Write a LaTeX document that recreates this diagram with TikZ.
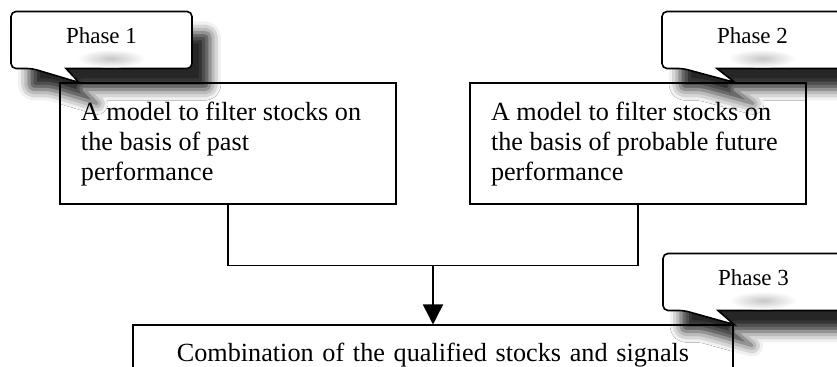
\documentclass[tikz,border=0pt]{standalone}
\usepackage{fontspec}
\setmainfont{Liberation Serif}
\usetikzlibrary{positioning,calc,arrows.meta,shadows.blur}

\tikzset{
  stagebox/.style={draw,line width=1pt,fill=white,align=flush left,text width=147pt,
    inner xsep=10.5pt,inner ysep=9pt,minimum height=60.5pt,
    font=\fontsize{13.1pt}{14.9pt}\selectfont},
  resultbox/.style={draw,line width=1pt,fill=white,align=center,text width=279pt,
    inner xsep=10.5pt,inner ysep=9pt,font=\fontsize{13.1pt}{14.9pt}\selectfont},
  phasetag/.style={inner sep=0pt,font=\fontsize{11.5pt}{13pt}\selectfont},
  bubble/.style={draw,line width=0.8pt,fill=white,
    blur shadow={shadow xshift=9pt,shadow yshift=-10.5pt,shadow blur radius=5.5pt,shadow opacity=85}},
  link/.style={line width=0.75pt}
}

\begin{document}
\begin{tikzpicture}
\useasboundingbox (0,0) rectangle (418.5pt,-183.5pt);
\clip (0,0) rectangle (418.5pt,-183.5pt);

% the three steps
\node[stagebox] (past) at (114pt,-72pt) {A model to filter stocks on\\the basis of past\\performance};
\node[stagebox,right=36pt of past] (future) {A model to filter stocks on\\the basis of probable future\\performance};
\coordinate (join) at ($(past.south)!.5!(future.south)+(0,-30pt)$);
\node[resultbox,below=29.5pt of join] (combine) {Combination of the qualified stocks and signals};

\draw[link] (past.south) |- (join) -| (future.south);
\draw[link,-{Triangle[width=10pt,length=10pt]}] (join) -- (combine.north);

% phase callouts
\coordinate (ph1) at ($(past.north west)+(-24pt,7pt)$);
\coordinate (ph2) at ($(future.north east)+(-72.5pt,7pt)$);
\coordinate (ph3) at ($(combine.north east)+(-35.5pt,7pt)$);
\coordinate (tip1) at ($(past.north west)+(10pt,0)$);
\coordinate (tip2) at ($(future.north east)+(-36pt,0)$);
\coordinate (tip3) at (combine.north east);

\foreach \p/\t/\n in {ph1/tip1/1,ph2/tip2/2,ph3/tip3/3}{
  \draw[bubble] ($(\p)+(27.5pt,0)$) [rounded corners=2.5pt] -- ++(63pt,0) -- ++(0,28.5pt)
    -- ++(-90.5pt,0) -- ++(0,-28.5pt) -- ++(10.5pt,0) [sharp corners] -- (\t) -- cycle;
  \shade[inner color=black!22,outer color=white] ($(\p)+(50pt,5pt)$) ellipse (17pt and 4.5pt);
  \node[phasetag,anchor=base] (label\n) at ($(\p)+(45.25pt,12.5pt)$) {Phase \n};
}
\end{tikzpicture}
\end{document}
